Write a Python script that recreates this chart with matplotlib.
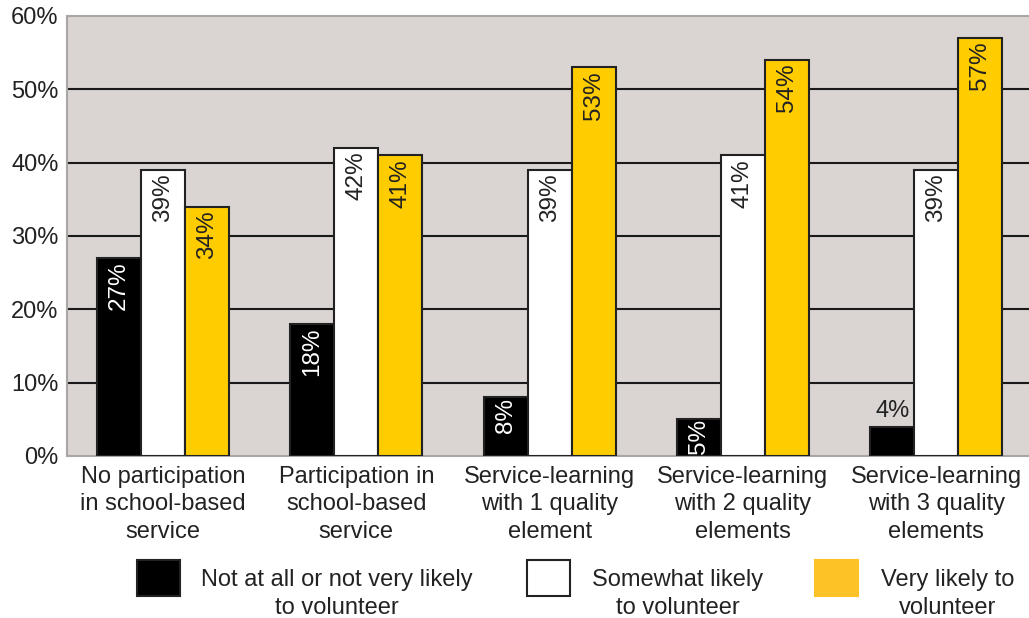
import matplotlib
matplotlib.use('Agg')
import matplotlib.pyplot as plt
from matplotlib.patches import Rectangle
import numpy as np

plt.rcParams['font.family'] = ['Liberation Sans', 'DejaVu Sans']

categories = ['No participation\nin school-based\nservice',
              'Participation in\nschool-based\nservice',
              'Service-learning\nwith 1 quality\nelement',
              'Service-learning\nwith 2 quality\nelements',
              'Service-learning\nwith 3 quality\nelements']
not_likely = [27, 18, 8, 5, 4]
somewhat = [39, 42, 39, 41, 39]
very_likely = [34, 41, 53, 54, 57]
series_names = ['Not at all or not very likely\nto volunteer',
                'Somewhat likely\nto volunteer',
                'Very likely to\nvolunteer']
yticks = [0, 10, 20, 30, 40, 50, 60]

colors = ['#000000', '#ffffff', '#ffcc00']
txt_colors = ['white', '#222222', '#222222']

fig = plt.figure(figsize=(10.29, 6.18), dpi=100)
ax = fig.add_axes([67/1029, 1-456/618, 1-67/1029, 440/618])
ax.set_facecolor('#dad5d2')

x = np.arange(len(categories))
w = 0.228
for i, vals in enumerate([not_likely, somewhat, very_likely]):
    pos = x + (i - 1) * w
    bars = ax.bar(pos, vals, w, color=colors[i], edgecolor='#222222', linewidth=1.5, zorder=3)
    for b, v in zip(bars, vals):
        cx = b.get_x() + b.get_width() / 2
        if v < 5:
            # too short for a label inside
            ax.text(cx, v + 0.6, f'{v}%', ha='center', va='bottom', fontsize=17, color='#222222', zorder=4)
        elif v <= 6:
            ax.text(cx, v / 2 + 0.2, f'{v}%', ha='center', va='center', rotation=90, fontsize=17.5,
                    color=txt_colors[i], zorder=4)
        else:
            off = 0.5 if v > 10 else 0.15
            ax.text(cx, v - off, f'{v}%', ha='center', va='top', rotation=90, fontsize=17.5,
                    color=txt_colors[i], zorder=4)

for t in yticks[1:-1]:
    ax.axhline(t, color='#1a1a1a', linewidth=1.5, zorder=1)

ax.set_xlim(-0.497, 4.48)
ax.set_ylim(0, 60)
ax.set_yticks(yticks)
ax.set_yticklabels([f'{t}%' for t in yticks], fontsize=17, color='#222222')
ax.set_xticks(x)
ax.set_xticklabels(categories, fontsize=17, color='#222222', linespacing=1.32)
ax.tick_params(length=0, pad=7)
ax.tick_params(axis='y', pad=6)
for s in ['top', 'left', 'bottom']:
    ax.spines[s].set_color('#aaa6a3')
    ax.spines[s].set_linewidth(1.5)
ax.spines['right'].set_visible(False)

# legend
leg_x = [137, 527, 815]
text_x = [337, 678, 948]
for i in range(3):
    fig.patches.append(Rectangle((leg_x[i]/1029, 1-596/618), 43/1029, 36/618,
                                 transform=fig.transFigure, facecolor=colors[i] if i != 2 else '#fdc326',
                                 edgecolor='#222222' if i != 2 else '#fdc326', linewidth=1.5))
    fig.text(text_x[i]/1029, 1-594/618, series_names[i], ha='center', va='center', fontsize=17,
             color='#222222', linespacing=1.3)

fig.savefig('out.png', dpi=100)
